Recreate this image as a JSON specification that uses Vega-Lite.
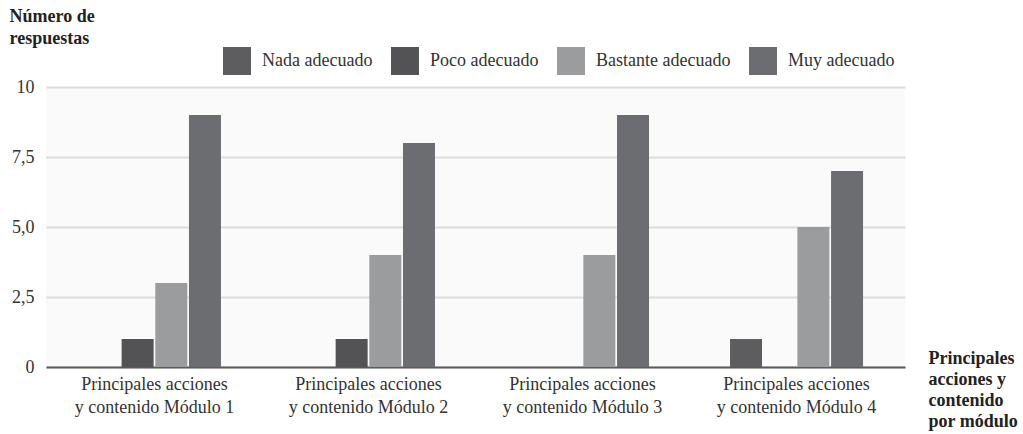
{
  "$schema": "https://vega.github.io/schema/vega-lite/v6.json",
  "width": 859,
  "height": 280,
  "autosize": {"type": "none"},
  "padding": {"left": 46, "top": 87, "right": 118, "bottom": 67},
  "background": "#ffffff",
  "config": {
    "font": "Liberation Serif",
    "view": {"stroke": null, "fill": "#fafafa"}
  },
  "data": {
    "values": [
      {"modulo": "Módulo 1", "valoracion": "Nada adecuado", "respuestas": 0},
      {"modulo": "Módulo 1", "valoracion": "Poco adecuado", "respuestas": 1},
      {"modulo": "Módulo 1", "valoracion": "Bastante adecuado", "respuestas": 3},
      {"modulo": "Módulo 1", "valoracion": "Muy adecuado", "respuestas": 9},
      {"modulo": "Módulo 2", "valoracion": "Nada adecuado", "respuestas": 0},
      {"modulo": "Módulo 2", "valoracion": "Poco adecuado", "respuestas": 1},
      {"modulo": "Módulo 2", "valoracion": "Bastante adecuado", "respuestas": 4},
      {"modulo": "Módulo 2", "valoracion": "Muy adecuado", "respuestas": 8},
      {"modulo": "Módulo 3", "valoracion": "Nada adecuado", "respuestas": 0},
      {"modulo": "Módulo 3", "valoracion": "Poco adecuado", "respuestas": 0},
      {"modulo": "Módulo 3", "valoracion": "Bastante adecuado", "respuestas": 4},
      {"modulo": "Módulo 3", "valoracion": "Muy adecuado", "respuestas": 9},
      {"modulo": "Módulo 4", "valoracion": "Nada adecuado", "respuestas": 1},
      {"modulo": "Módulo 4", "valoracion": "Poco adecuado", "respuestas": 0},
      {"modulo": "Módulo 4", "valoracion": "Bastante adecuado", "respuestas": 5},
      {"modulo": "Módulo 4", "valoracion": "Muy adecuado", "respuestas": 7}
    ]
  },
  "mark": {"type": "bar"},
  "encoding": {
    "x": {
      "field": "modulo",
      "type": "nominal",
      "sort": null,
      "scale": {"paddingInner": 0.3785, "paddingOuter": 0.196},
      "axis": {
        "title": ["Principales", "acciones y", "contenido", "por módulo"],
        "titleFont": "Liberation Serif",
        "titleFontWeight": "bold",
        "titleFontSize": 18,
        "titleColor": "#222222",
        "titleAngle": 0,
        "titleAlign": "left",
        "titleBaseline": "top",
        "titleX": 882,
        "titleY": -18,
        "titleLineHeight": 21,
        "labelFont": "Liberation Serif",
        "labelExpr": "['Principales acciones', 'y contenido ' + datum.value]",
        "labelAngle": 0,
        "labelFontSize": 18,
        "labelColor": "#333333",
        "labelLineHeight": 23,
        "labelPadding": 8,
        "ticks": false,
        "domain": true,
        "domainColor": "#5a5a5a",
        "domainWidth": 2
      }
    },
    "xOffset": {
      "field": "valoracion",
      "type": "nominal",
      "sort": ["Nada adecuado", "Poco adecuado", "Bastante adecuado", "Muy adecuado"],
      "scale": {"paddingInner": 0.05}
    },
    "y": {
      "field": "respuestas",
      "type": "quantitative",
      "scale": {"domain": [0, 10]},
      "axis": {
        "values": [0, 2.5, 5, 7.5, 10],
        "labelExpr": "datum.value == 0 ? '0' : datum.value == 10 ? '10' : replace(format(datum.value, '.1f'), '.', ',')",
        "labelFont": "Liberation Serif",
        "labelFontSize": 18,
        "labelColor": "#333333",
        "labelPadding": 12,
        "ticks": false,
        "domain": false,
        "grid": true,
        "gridColor": "#dcdcdc",
        "gridWidth": 2,
        "title": ["Número de", "respuestas"],
        "titleFont": "Liberation Serif",
        "titleFontWeight": "bold",
        "titleFontSize": 18,
        "titleColor": "#222222",
        "titleAngle": 0,
        "titleAlign": "left",
        "titleBaseline": "top",
        "titleX": -37,
        "titleY": -80,
        "titleLineHeight": 22
      }
    },
    "color": {
      "field": "valoracion",
      "type": "nominal",
      "scale": {
        "domain": ["Nada adecuado", "Poco adecuado", "Bastante adecuado", "Muy adecuado"],
        "range": ["#5d5d60", "#535355", "#9b9c9e", "#6c6d71"]
      },
      "legend": {
        "title": null,
        "orient": "none",
        "direction": "horizontal",
        "legendX": 177,
        "legendY": -40,
        "symbolType": "square",
        "symbolSize": 784,
        "symbolStrokeWidth": 0,
        "labelFont": "Liberation Serif",
        "labelFontSize": 18,
        "labelColor": "#333333",
        "labelOffset": 11,
        "columnPadding": 18
      }
    }
  }
}
